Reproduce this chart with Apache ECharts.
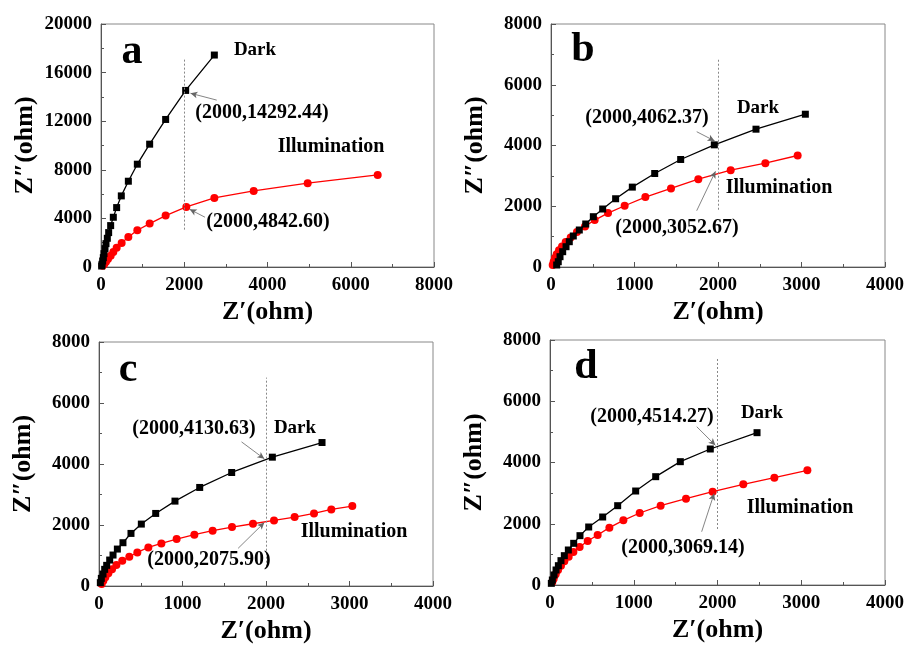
<!DOCTYPE html>
<html><head><meta charset="utf-8">
<script src="https://cdn.jsdelivr.net/npm/echarts@6/dist/echarts.min.js"></script>
<style>html,body{margin:0;padding:0;background:#fff}#c{width:907px;height:645px}</style>
</head><body><div id="c"></div>
<script>
// ---------- data ----------
const aDark = [[16,82],[24,220],[40,494],[56,769],[72,1099],[96,1511],[120,1923],[152,2363],[184,2830],[232,3407],[296,4093],[376,4890],[488,5852],[657,7060],[873,8462],[1169,10110],[1553,12143],[2034,14533],[2723,17445]];
const aIllum = [[40,110],[80,247],[120,440],[168,659],[232,934],[296,1236],[376,1593],[496,1978],[657,2473],[873,3022],[1169,3571],[1553,4231],[2050,4945],[2723,5687],[3668,6264],[4965,6896],[6647,7582]];
const bDark = [[68,66],[87,174],[108,339],[140,504],[180,668],[219,833],[267,1021],[339,1218],[416,1416],[507,1656],[619,1909],[774,2247],[974,2630],[1242,3079],[1553,3540],[1956,4022],[2455,4537],[3046,5030]];
const bIllum = [[20,66],[32,175],[48,296],[68,416],[96,548],[132,679],[176,822],[236,975],[311,1151],[407,1337],[523,1545],[683,1775],[882,2016],[1130,2301],[1437,2586],[1764,2893],[2152,3189],[2567,3419],[2954,3671]];
const cDark = [[16,109],[28,251],[48,393],[68,546],[92,677],[128,851],[168,1015],[220,1211],[287,1419],[383,1724],[507,2030],[679,2379],[910,2783],[1206,3231],[1589,3722],[2076,4224],[2671,4704]];
const cIllum = [[32,65],[52,175],[76,284],[112,415],[156,546],[208,688],[279,829],[363,960],[459,1102],[591,1266],[747,1397],[930,1539],[1142,1681],[1361,1812],[1593,1932],[1844,2041],[2096,2150],[2343,2259],[2575,2379],[2782,2510],[3034,2619]];
const dDark = [[16,54],[28,163],[48,327],[72,490],[100,631],[131,795],[171,958],[219,1143],[283,1361],[358,1611],[462,1894],[629,2220],[808,2590],[1023,3069],[1262,3537],[1556,4027],[1914,4441],[2472,4974]];
const dIllum = [[28,98],[44,207],[68,348],[96,490],[131,631],[171,773],[223,925],[279,1078],[354,1241],[450,1437],[569,1633],[709,1872],[876,2112],[1071,2351],[1321,2590],[1624,2819],[1942,3048],[2308,3287],[2679,3505],[3073,3744]];

const panelLetters = ['a','b','c','d'];
const xMax = [8000,4000,4000,4000];
const xStep = [2000,1000,1000,1000];
const yMax = [20000,8000,8000,8000];
const yStep = [4000,2000,2000,2000];
const markValues = [['2000,14292.44','2000,4842.60'],['2000,4062.37','2000,3052.67'],['2000,4130.63','2000,2075.90'],['2000,4514.27','2000,3069.14']];
// dotted guide at Z'=2000: [yFrom, yTo]
const guideY = [[3077,17170],[1885,6838],[633,6832],[1829,7401]];
// arrows: [start, tip] in data units
const arrowsDark = [[[2780,13737],[2150,14300]],[[1745,4454],[1960,4150]],[[1707,4725],[1980,4170]],[[1752,5169],[1975,4560]]];
const arrowsIllum = [[[2498,4096],[2130,4750]],[[1745,1853],[1970,3150]],[[1666,1235],[1980,2080]],[[1811,1740],[1960,2990]]];
const darkSets = [aDark,bDark,cDark,dDark];
const illumSets = [aIllum,bIllum,cIllum,dIllum];

// ---------- layout ----------
const grids = [
  {left:101, top:24, width:333, height:243},
  {left:551, top:24, width:334, height:243},
  {left:99,  top:342, width:334, height:244},
  {left:550, top:340, width:335, height:245}
];
const letterPos = [[132,52],[583,50],[128,370],[586,367]];
const darkPos = [[255,50],[758,108],[295,428],[762,413]];
const illumPos = [[331,147],[779,188],[354,532],[800,508]];
const lab1Pos = [[262,113],[647,118],[194,429],[652,417]];
const lab2Pos = [[268,222],[677,228],[209,560],[683,548]];

const FONT = '"Liberation Serif","Times New Roman",serif';
const axisColor = '#555';

const xAxes = [], yAxes = [], series = [], graphics = [];
for (let i = 0; i < 4; i++) {
  xAxes.push({
    type:'value', gridIndex:i, min:0, max:xMax[i], interval:xStep[i],
    name:'Z\u2032(ohm)', nameLocation:'middle', nameGap:32,
    nameTextStyle:{fontFamily:FONT, fontWeight:'bold', fontSize:26, color:'#000'},
    axisLine:{show:true, lineStyle:{color:axisColor, width:1}},
    axisTick:{show:true, inside:true, length:5, lineStyle:{color:axisColor}},
    minorTick:{show:true, splitNumber:2, length:3, lineStyle:{color:axisColor}},
    axisLabel:{fontFamily:FONT, fontWeight:'bold', fontSize:19, color:'#000', margin:9, showMaxLabel:true, showMinLabel:true,
      formatter:v => String(v)},
    splitLine:{show:false}
  });
  yAxes.push({
    type:'value', gridIndex:i, min:0, max:yMax[i], interval:yStep[i],
    name:'Z\u2033(ohm)', nameLocation:'middle', nameGap:63,
    nameTextStyle:{fontFamily:FONT, fontWeight:'bold', fontSize:26, color:'#000'},
    axisLine:{show:true, lineStyle:{color:axisColor, width:1}},
    axisTick:{show:true, inside:true, length:5, lineStyle:{color:axisColor}},
    minorTick:{show:true, splitNumber:2, length:3, lineStyle:{color:axisColor}},
    axisLabel:{fontFamily:FONT, fontWeight:'bold', fontSize:19, color:'#000', margin:9, formatter:v => String(v)},
    splitLine:{show:false}
  });
  const mlStyle = {color:'#666', width:0.8, type:'solid'};
  series.push({
    type:'line', xAxisIndex:i, yAxisIndex:i, data:darkSets[i],
    symbol:'rect', symbolSize:7, showSymbol:true,
    lineStyle:{color:'#000', width:1.3}, itemStyle:{color:'#000'},
    z:3, animation:false,
    markLine:{
      silent:true, animation:false, label:{show:false},
      symbol:['none','none'],
      data:[
        [{coord:[2000,guideY[i][0]], lineStyle:{color:'#888', width:1, type:[2,2]}},{coord:[2000,guideY[i][1]]}],
        [{coord:arrowsDark[i][0], symbol:'none', lineStyle:mlStyle},{coord:arrowsDark[i][1], symbol:'arrow', symbolSize:[5,7]}],
        [{coord:arrowsIllum[i][0], symbol:'none', lineStyle:mlStyle},{coord:arrowsIllum[i][1], symbol:'arrow', symbolSize:[5,7]}]
      ]
    }
  });
  series.push({
    type:'line', xAxisIndex:i, yAxisIndex:i, data:illumSets[i],
    symbol:'circle', symbolSize:8, showSymbol:true,
    lineStyle:{color:'#ff0000', width:1.3}, itemStyle:{color:'#ff0000'},
    z:2, animation:false
  });
  const txt = (pos, s, size) => ({
    type:'text', x:pos[0], y:pos[1], z:100,
    style:{text:s, fontFamily:FONT, fontWeight:'bold', fontSize:size, fill:'#000', align:'center', verticalAlign:'middle'}
  });
  graphics.push(txt(letterPos[i], panelLetters[i], 42));
  graphics.push(txt(darkPos[i], 'Dark', 19));
  graphics.push(txt(illumPos[i], 'Illumination', 20));
  graphics.push(txt(lab1Pos[i], '(' + markValues[i][0] + ')', 20));
  graphics.push(txt(lab2Pos[i], '(' + markValues[i][1] + ')', 20));
}

const chart = echarts.init(document.getElementById('c'), null, {renderer:'canvas'});
chart.setOption({
  animation:false,
  backgroundColor:'#fff',
  grid: grids.map(g => Object.assign({show:true, borderColor:'#888', borderWidth:1, backgroundColor:'transparent'}, g)),
  xAxis:xAxes, yAxis:yAxes, series:series, graphic:graphics
});
</script></body></html>
